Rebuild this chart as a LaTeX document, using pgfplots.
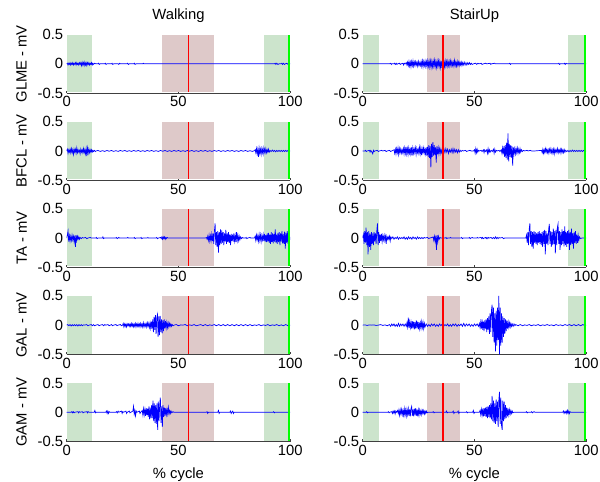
\documentclass[border=0pt]{standalone}
\usepackage{pgfplots}
\pgfplotsset{compat=1.18}
\usepackage{fontspec}
\setmainfont{Liberation Sans}

\definecolor{gshade}{RGB}{204,228,204}
\definecolor{rshade}{RGB}{222,201,201}
\definecolor{sig}{RGB}{0,0,255}
\definecolor{mred}{RGB}{255,0,0}
\definecolor{mgreen}{RGB}{0,255,0}
\newcommand\fs{\fontsize{14.8}{17}\selectfont}

\pgfplotsset{
  emg/.style={
    width=223.5pt, height=58.5pt, scale only axis,
    xmin=0, xmax=100, ymin=-0.5, ymax=0.5,
    axis x line*=bottom, axis y line*=left,
    y axis line style={draw=none},
    x axis line style={draw=black!75, line width=0.9pt},
    xtick={0,50,100}, xticklabels={0,50,100},
    ytick={-0.5,0,0.5}, yticklabels={-0.5,0,0.5},
    tick align=inside, major tick length=2.5pt,
    ytick style={draw=none}, xtick style={black!75, line width=0.8pt},
    tick label style={font=\fs},
    label style={font=\fs},
    xlabel style={yshift=-5pt},
    title style={font=\fs, yshift=2pt},
    ylabel shift=4pt,
    anchor=south west,
  },
  sigline/.style={draw=sig, line width=0.7pt, mark=none},
  band/.style={draw=none, mark=none},
}

% phase shading, Walking / StairUp
\newcommand\walkbg{%
  \addplot[band, fill=gshade] coordinates {(0,-0.485) (11.2,-0.485) (11.2,0.5) (0,0.5)} -- cycle;
  \addplot[band, fill=rshade] coordinates {(42.8,-0.485) (65.8,-0.485) (65.8,0.5) (42.8,0.5)} -- cycle;
  \addplot[band, fill=gshade] coordinates {(88.1,-0.485) (100,-0.485) (100,0.5) (88.1,0.5)} -- cycle;}
\newcommand\stairbg{%
  \addplot[band, fill=gshade] coordinates {(0,-0.485) (7.4,-0.485) (7.4,0.5) (0,0.5)} -- cycle;
  \addplot[band, fill=rshade] coordinates {(28.6,-0.485) (43.4,-0.485) (43.4,0.5) (28.6,0.5)} -- cycle;
  \addplot[band, fill=gshade] coordinates {(91.8,-0.485) (100,-0.485) (100,0.5) (91.8,0.5)} -- cycle;}
% event line and end-of-cycle line
\newcommand\walkln{%
  \addplot[band, fill=mred] coordinates {(54.15,-0.485) (54.85,-0.485) (54.85,0.5) (54.15,0.5)} -- cycle;
  \addplot[band, fill=mgreen] coordinates {(99.15,-0.485) (100,-0.485) (100,0.5) (99.15,0.5)} -- cycle;}
\newcommand\stairln{%
  \addplot[band, fill=mred] coordinates {(35.7,-0.485) (36.3,-0.485) (36.3,0.5) (35.7,0.5)} -- cycle;
  \addplot[band, fill=mgreen] coordinates {(99.15,-0.485) (100,-0.485) (100,0.5) (99.15,0.5)} -- cycle;}

\begin{document}
\begin{tikzpicture}
\path[use as bounding box] (0,0) rectangle (600pt,482pt);

%% ---- row 1: GLME
\begin{axis}[emg, at={(66.7pt,388.9pt)}, title={Walking}, ylabel={GLME - mV}]
\walkbg
\addplot[sigline] coordinates {(0,0) (0.3,0.01) (0.6,-0.02) (0.9,0.01) (1.2,-0.01) (1.5,0.02) (1.8,-0.02) (2.1,0.01) (2.4,-0.01) (2.7,0.02) (3,-0.02) (3.3,0.01) (3.6,-0.01) (3.9,0.02) (4.2,-0.02) (4.5,0.02) (4.8,-0.01) (5.1,0.01) (5.4,-0.02) (5.7,0.02) (6,-0.01) (6.3,0.02) (6.6,-0.03) (6.9,0.03) (7.2,-0.02) (7.5,0.02) (7.8,-0.03) (8.1,0.03) (8.4,-0.02) (8.7,0.02) (9,-0.03) (9.3,0.02) (9.6,-0.01) (9.9,0.02) (10.2,-0.02) (10.5,0.01) (10.8,-0.01) (11.1,0.02) (11.4,-0.02) (11.7,0.01) (12,-0.01) (12.5,0.01) (13,0) (14,0) (14.3,0.01) (14.6,-0.01) (15,0) (17,0) (17.3,0.01) (17.6,-0.01) (18,0) (20,0) (20.3,0.01) (20.6,-0.01) (21,0) (23,0) (23.3,-0.01) (23.6,0.01) (24,0) (27,0) (27.3,0.01) (27.6,-0.01) (28,0) (30,0) (30.3,0.01) (30.6,-0.01) (31,0) (34,0) (34.3,0.01) (34.6,0) (93,0) (93.3,0.01) (93.6,-0.01) (94,0.01) (94.5,-0.01) (95,0) (96,0) (96.3,0.01) (96.6,-0.01) (97,0.01) (97.4,-0.01) (97.8,0) (98.5,0.01) (99,-0.01) (99.5,0) (100,0)};
\walkln
\end{axis}

\begin{axis}[emg, at={(362.7pt,388.9pt)}, title={StairUp}]
\stairbg
\addplot[sigline] coordinates {(0,0) (12,0) (12.5,0.01) (12.8,-0.01) (13,0) (14,0) (14.3,0.01) (14.6,-0.01) (15,0.01) (15.3,-0.01) (15.6,0) (16.5,0.01) (16.8,-0.01) (17.2,0) (18,0.01) (18.3,-0.02) (18.6,0.01) (19,0) (19.5,0.02) (19.8,-0.02) (20.1,0.03) (20.4,-0.03) (20.7,0.04) (21,-0.04) (21.3,0.03) (21.6,-0.05) (21.9,0.04) (22.2,-0.03) (22.5,0.05) (22.8,-0.04) (23.1,0.03) (23.4,-0.03) (23.7,0.04) (24,-0.02) (24.3,0.03) (24.6,-0.04) (24.9,0.04) (25.2,-0.03) (25.5,0.02) (25.8,-0.03) (26.1,0.04) (26.4,-0.04) (26.7,0.05) (27,-0.05) (27.3,0.04) (27.6,-0.03) (27.9,0.05) (28.2,-0.04) (28.5,0.04) (28.8,-0.05) (29.1,0.05) (29.4,-0.04) (29.7,0.05) (30,-0.05) (30.3,0.05) (30.6,-0.06) (30.9,0.04) (31.2,-0.05) (31.5,0.05) (31.8,-0.04) (32.1,0.06) (32.4,-0.05) (32.7,0.04) (33,-0.06) (33.3,0.05) (33.6,-0.04) (33.9,0.05) (34.2,-0.05) (34.5,0.04) (34.8,-0.06) (35.1,0.05) (35.4,-0.07) (35.7,0.05) (36,-0.04) (36.3,0.04) (36.6,-0.05) (36.9,0.05) (37.2,-0.04) (37.5,0.04) (37.8,-0.04) (38.1,0.05) (38.4,-0.03) (38.7,0.04) (39,-0.04) (39.3,0.05) (39.6,-0.03) (39.9,0.04) (40.2,-0.03) (40.5,0.03) (40.8,-0.04) (41.1,0.06) (41.4,-0.03) (41.7,0.03) (42,-0.04) (42.3,0.04) (42.6,-0.03) (42.9,0.03) (43.2,-0.03) (43.5,0.03) (43.8,-0.02) (44.1,0.03) (44.4,-0.03) (44.7,0.02) (45,-0.02) (45.4,0.03) (45.8,-0.02) (46.2,0.02) (46.6,-0.02) (47,0.02) (47.4,-0.01) (47.8,0.02) (48.2,-0.01) (48.6,0.01) (49,-0.01) (49.5,0) (50.5,0.01) (51,-0.01) (51.5,0.01) (52,0) (53,0.01) (53.4,-0.01) (54,0) (55,0.01) (55.4,0) (57,0.01) (57.3,-0.01) (57.6,0) (59,0.01) (59.3,0) (65.5,0) (65.8,0.01) (66.1,-0.01) (66.4,0) (87.5,0) (87.8,0.01) (88.1,-0.01) (88.4,0) (90,0) (90.3,0.01) (90.6,-0.01) (91,0.01) (91.3,0) (100,0)};
\stairln
\end{axis}

%% ---- row 2: BFCL
\begin{axis}[emg, at={(66.7pt,301.8pt)}, ylabel={BFCL - mV}]
\walkbg
\addplot[sigline] coordinates {(0,0) (0.3,0.03) (0.6,-0.04) (0.9,0.02) (1.2,-0.02) (1.5,0.03) (1.8,-0.03) (2.1,0.04) (2.4,-0.03) (2.7,0.02) (3,-0.06) (3.3,0.03) (3.6,-0.02) (3.9,0.03) (4.2,-0.04) (4.5,0.05) (4.8,-0.03) (5.1,0.02) (5.4,-0.02) (5.7,0.01) (6,-0.05) (6.3,0.03) (6.6,-0.02) (6.9,0.02) (7.2,-0.03) (7.5,0.04) (7.8,-0.03) (8.1,0.02) (8.4,-0.05) (8.7,0.04) (9,-0.09) (9.3,0.05) (9.6,-0.04) (9.9,0.03) (10.2,-0.03) (10.5,0.02) (10.8,-0.02) (11.1,0.02) (11.4,-0.02) (11.7,0.01) (12,-0.01) (12.4,0.01) (12.8,-0.01) (13.2,0) (14,0.008) (15,-0.008) (16,0.005) (17,-0.008) (18,0.008) (19,-0.005) (20,0.008) (21,-0.008) (22,0.005) (23,-0.008) (24,0.008) (25,-0.005) (26,0.008) (27,-0.008) (28,0.005) (29,-0.008) (30,0.008) (31,-0.005) (32,0.008) (33,-0.008) (34,0.005) (35,-0.008) (36,0.008) (37,-0.005) (38,0.008) (39,-0.008) (40,0.005) (41,-0.008) (42,0.008) (43,-0.005) (44,0.008) (45,-0.008) (46,0.005) (47,-0.008) (48,0.008) (49,-0.005) (50,0.008) (51,-0.008) (52,0.005) (53,-0.008) (54,0.008) (55,-0.005) (56,0.008) (57,-0.008) (58,0.005) (59,-0.008) (60,0.008) (61,-0.005) (62,0.008) (63,-0.008) (64,0.005) (65,-0.008) (66,0.008) (67,-0.005) (68,0.008) (69,-0.008) (70,0.005) (71,-0.008) (72,0.008) (73,-0.005) (74,0.008) (75,-0.008) (76,0.005) (77,-0.008) (78,0.008) (79,-0.005) (80,0.008) (81,-0.008) (82,0.005) (83,-0.008) (84,0.005) (84.3,0.02) (84.6,-0.03) (84.9,0.04) (85.2,-0.05) (85.5,0.03) (85.8,-0.1) (86.1,0.05) (86.4,-0.04) (86.7,0.03) (87,-0.06) (87.3,0.04) (87.6,-0.03) (87.9,0.05) (88.2,-0.05) (88.5,0.03) (88.8,-0.03) (89.1,0.04) (89.4,-0.03) (89.7,0.02) (90,-0.02) (90.3,0.03) (90.6,-0.02) (91,0.01) (91.5,-0.01) (92,0.015) (92.5,-0.01) (93,0.01) (93.5,-0.015) (94,0.01) (94.5,-0.01) (95,0.01) (95.5,-0.01) (96,0.01) (96.5,-0.01) (97,0.01) (97.5,-0.01) (98,0.01) (98.5,-0.01) (99,0.01) (99.5,-0.01) (100,0)};
\walkln
\end{axis}

\begin{axis}[emg, at={(362.7pt,301.8pt)}]
\stairbg
\addplot[sigline] coordinates {(0,0) (1,0) (1.3,0.01) (1.6,-0.01) (2,0) (3,0.01) (3.3,-0.02) (3.6,0.01) (4,-0.01) (4.5,-0.05) (4.8,0.01) (5.1,-0.01) (5.5,0) (6.5,0.01) (7,-0.01) (7.5,0) (8.5,0.01) (9,0) (10,0.01) (10.5,-0.01) (11,0) (12,0.01) (12.5,-0.01) (13,0) (14,0.02) (14.3,-0.04) (14.6,0.03) (14.9,-0.05) (15.2,0.04) (15.5,-0.03) (15.8,0.05) (16.1,-0.06) (16.4,0.04) (16.7,-0.03) (17,0.03) (17.3,-0.04) (17.6,0.02) (17.9,-0.03) (18.2,0.04) (18.5,-0.05) (18.8,0.05) (19.1,-0.04) (19.4,0.07) (19.7,-0.05) (20,0.04) (20.3,-0.06) (20.6,0.05) (20.9,-0.04) (21.2,0.03) (21.5,-0.05) (21.8,0.06) (22.1,-0.08) (22.4,0.05) (22.7,-0.04) (23,0.04) (23.3,-0.03) (23.6,0.05) (23.9,-0.06) (24.2,0.04) (24.5,-0.03) (24.8,0.03) (25.1,-0.04) (25.4,0.06) (25.7,-0.05) (26,0.05) (26.3,-0.07) (26.6,0.04) (26.9,-0.03) (27.2,0.05) (27.5,-0.04) (27.8,0.03) (28.1,-0.05) (28.4,0.06) (28.7,-0.08) (29,0.07) (29.3,-0.1) (29.6,0.1) (29.9,-0.12) (30.2,0.08) (30.5,-0.28) (30.8,0.12) (31.1,-0.1) (31.4,0.15) (31.7,-0.08) (32,0.1) (32.3,-0.07) (32.6,0.06) (32.9,-0.2) (33.2,0.08) (33.5,-0.06) (33.8,0.05) (34.1,-0.05) (34.4,0.04) (34.7,-0.04) (35,0.03) (35.3,-0.03) (35.6,0.02) (36,-0.02) (36.4,0.03) (36.8,-0.03) (37.2,0.04) (37.6,-0.02) (38,0.03) (38.4,-0.04) (38.8,0.02) (39.2,-0.02) (39.6,0.03) (40,-0.03) (40.4,0.04) (40.8,-0.03) (41.2,0.03) (41.6,-0.02) (42,0.02) (42.4,-0.03) (42.8,0.02) (43.2,-0.02) (43.6,0.01) (44,-0.01) (44.5,0.01) (45,0) (46,0.01) (46.5,-0.01) (47,0) (48,0.01) (48.5,0) (49.5,0) (50,0.02) (50.3,-0.04) (50.6,0.04) (50.9,-0.03) (51.2,0.03) (51.5,-0.02) (51.8,0.01) (52.2,0) (53,0.01) (53.4,-0.01) (54,0.02) (54.3,-0.03) (54.6,0.02) (55,-0.01) (55.5,0.02) (55.8,-0.04) (56.1,0.04) (56.4,-0.03) (56.7,0.02) (57,-0.02) (57.5,0.01) (58,-0.01) (58.5,0.03) (58.8,-0.04) (59.1,0.03) (59.4,-0.02) (59.8,0.01) (60.2,0) (61,0.01) (61.4,-0.01) (62,0.02) (62.3,-0.04) (62.6,0.05) (62.9,-0.06) (63.2,0.08) (63.5,-0.1) (63.8,0.1) (64.1,-0.12) (64.4,0.14) (64.7,-0.15) (65,0.3) (65.3,-0.18) (65.6,0.12) (65.9,-0.1) (66.2,0.1) (66.5,-0.12) (66.8,0.08) (67.1,-0.25) (67.4,0.06) (67.7,-0.05) (68,0.04) (68.3,-0.05) (68.6,0.04) (68.9,-0.03) (69.2,0.05) (69.5,-0.04) (69.8,0.03) (70.1,-0.03) (70.4,0.04) (70.7,-0.02) (71,0.02) (71.4,-0.01) (72,0.01) (72.5,0) (73.5,0.01) (74,0) (75,0.01) (75.5,0) (77,0) (80,0.01) (80.3,-0.03) (80.6,0.03) (80.9,-0.04) (81.2,0.02) (81.5,-0.03) (81.8,0.04) (82.1,-0.02) (82.4,0.03) (82.7,-0.03) (83,0.02) (83.3,-0.04) (83.6,0.03) (83.9,-0.02) (84.2,0.04) (84.5,-0.03) (84.8,0.02) (85.1,-0.04) (85.4,0.03) (85.7,-0.05) (86,0.03) (86.3,-0.02) (86.6,0.02) (86.9,-0.03) (87.2,0.04) (87.5,-0.03) (87.8,0.02) (88.1,-0.02) (88.4,0.03) (88.7,-0.04) (89,0.03) (89.3,-0.02) (89.6,0.02) (89.9,-0.03) (90.2,0.02) (90.5,-0.02) (90.8,0.01) (91.3,-0.01) (91.8,0.01) (92.3,-0.015) (92.8,0.01) (93.3,-0.01) (93.8,0.015) (94.3,-0.01) (94.8,0.01) (95.3,-0.01) (95.8,0.01) (96.3,-0.01) (96.8,0.01) (97.3,-0.01) (97.8,0.01) (98.3,-0.01) (98.8,0.01) (99.3,-0.01) (100,0)};
\stairln
\end{axis}

%% ---- row 3: TA
\begin{axis}[emg, at={(66.7pt,214.7pt)}, ylabel={TA - mV}]
\walkbg
\addplot[sigline] coordinates {(0,0) (0.3,0.05) (0.6,0.12) (0.9,-0.06) (1.2,0.04) (1.5,-0.05) (1.8,0.03) (2.1,-0.04) (2.4,0.05) (2.7,-0.03) (3,0.03) (3.3,-0.06) (3.6,0.04) (3.9,-0.15) (4.2,0.05) (4.5,-0.04) (4.8,0.03) (5.1,-0.02) (5.4,0.02) (5.7,-0.02) (6,0.01) (6.5,-0.01) (7,0.01) (7.5,0) (8.5,0.01) (9,-0.01) (9.5,0) (10.5,0.01) (11,0) (13,0) (13.3,0.01) (13.6,-0.01) (14,0) (16,0) (16.2,0.02) (16.5,-0.01) (16.8,0) (22,0) (22.3,0.01) (22.6,-0.01) (23,0) (23.3,0.01) (23.6,0) (27,0) (27.3,0.01) (27.6,0) (30,0) (30.3,0.01) (30.6,-0.01) (31,0) (33,0) (33.3,0.01) (33.6,-0.01) (34,0) (36,0) (36.3,0.01) (36.6,0) (40,0) (40.3,0.01) (40.6,-0.01) (41,0) (42,0.01) (42.3,-0.01) (42.6,0.02) (42.9,-0.02) (43.2,0.02) (43.5,-0.01) (43.8,0.02) (44.1,-0.02) (44.4,0.01) (44.7,-0.01) (45,0.01) (45.4,0) (62,0) (62.5,0.01) (62.8,-0.02) (63.1,0.03) (63.4,-0.04) (63.7,0.05) (64,-0.05) (64.3,0.04) (64.6,-0.05) (64.9,0.06) (65.2,-0.05) (65.5,0.08) (65.8,-0.1) (66.1,0.12) (66.4,0.25) (66.7,-0.12) (67,0.1) (67.3,-0.15) (67.6,0.12) (67.9,-0.25) (68.2,0.1) (68.5,-0.12) (68.8,0.15) (69.1,-0.1) (69.4,0.13) (69.7,-0.08) (70,0.1) (70.3,-0.12) (70.6,0.08) (70.9,-0.06) (71.2,0.14) (71.5,-0.1) (71.8,0.08) (72.1,-0.07) (72.4,0.1) (72.7,-0.08) (73,0.06) (73.3,-0.12) (73.6,0.07) (73.9,-0.05) (74.2,0.06) (74.5,-0.06) (74.8,0.08) (75.1,-0.05) (75.4,0.04) (75.7,-0.07) (76,0.1) (76.3,-0.04) (76.6,0.05) (76.9,-0.04) (77.2,0.03) (77.5,-0.03) (77.8,0.02) (78.2,-0.01) (78.6,0.01) (79,0) (80,0) (80.3,0.01) (80.6,-0.01) (81,0) (82,0.01) (82.3,0) (84,0) (84.3,0.03) (84.6,-0.04) (84.9,0.05) (85.2,-0.03) (85.5,0.04) (85.8,-0.05) (86.1,0.06) (86.4,-0.04) (86.7,0.05) (87,-0.06) (87.3,0.04) (87.6,-0.03) (87.9,0.06) (88.2,-0.05) (88.5,0.07) (88.8,-0.06) (89.1,0.05) (89.4,-0.07) (89.7,0.08) (90,-0.06) (90.3,0.09) (90.6,-0.08) (90.9,0.06) (91.2,-0.1) (91.5,0.1) (91.8,-0.07) (92.1,0.08) (92.4,-0.09) (92.7,0.07) (93,-0.06) (93.3,0.15) (93.6,-0.08) (93.9,0.06) (94.2,-0.1) (94.5,0.09) (94.8,-0.07) (95.1,0.1) (95.4,-0.12) (95.7,0.08) (96,-0.06) (96.3,0.12) (96.6,-0.09) (96.9,0.07) (97.2,-0.1) (97.5,0.11) (97.8,-0.18) (98.1,0.09) (98.4,-0.08) (98.7,0.12) (99,-0.1) (99.3,0.08) (99.6,-0.06) (100,0.02)};
\walkln
\end{axis}

\begin{axis}[emg, at={(362.7pt,214.7pt)}]
\stairbg
\addplot[sigline] coordinates {(0,0) (0.3,0.06) (0.6,-0.1) (0.9,0.12) (1.2,-0.08) (1.5,0.18) (1.8,-0.12) (2.1,0.1) (2.4,-0.28) (2.7,0.12) (3,-0.15) (3.3,0.08) (3.6,-0.2) (3.9,0.1) (4.2,-0.1) (4.5,0.08) (4.8,-0.12) (5.1,0.1) (5.4,-0.06) (5.7,0.08) (6,-0.1) (6.3,0.12) (6.6,0.25) (6.9,-0.12) (7.2,0.1) (7.5,-0.08) (7.8,0.06) (8.1,-0.05) (8.4,0.07) (8.7,-0.06) (9,0.04) (9.3,-0.03) (9.6,0.05) (9.9,-0.04) (10.2,0.03) (10.5,-0.1) (10.8,0.03) (11.1,-0.02) (11.4,0.02) (11.7,-0.02) (12,0.03) (12.3,-0.05) (12.6,0.02) (13,-0.01) (13.5,0.02) (14,-0.02) (14.5,0.01) (15,-0.01) (15.5,0.02) (16,-0.02) (16.5,0.01) (17,-0.01) (17.5,0.01) (18,-0.01) (18.5,0.02) (19,-0.02) (19.5,0.01) (20,-0.02) (20.5,0.02) (21,-0.01) (21.5,0.01) (22,-0.02) (22.5,0.02) (23,-0.01) (23.5,0.01) (24,-0.02) (24.5,0.02) (25,-0.01) (25.5,0.01) (26,-0.01) (26.5,0.01) (27,-0.01) (27.5,0.01) (28,0) (29,0.01) (29.5,-0.01) (30,0) (31,0.01) (31.5,0.02) (31.8,-0.04) (32.1,0.03) (32.4,-0.06) (32.7,0.04) (33,-0.2) (33.3,0.05) (33.6,-0.06) (33.9,0.03) (34.2,-0.02) (34.6,0.01) (35,0) (37,0) (37.3,0.01) (37.6,-0.01) (38,0) (39,0) (39.3,0.01) (39.6,0) (44,0) (44.3,0.01) (44.6,-0.01) (45,0) (47.5,0) (47.8,0.01) (48.1,-0.01) (48.4,0) (49,0.01) (49.3,0) (51,0) (51.3,0.01) (51.6,0) (53,0.01) (53.3,-0.01) (53.6,0.01) (54,-0.01) (54.4,0) (55,0.01) (55.3,-0.01) (55.6,0.01) (56,-0.01) (56.3,0.01) (56.7,0) (57.5,0.01) (58,-0.01) (58.5,0.01) (59,-0.01) (59.4,0.02) (59.8,-0.01) (60.2,0.01) (60.6,-0.01) (61,0.01) (61.4,0) (62.5,0.01) (63,-0.01) (63.5,0) (73,0) (73.3,0.05) (73.6,-0.08) (73.9,0.1) (74.2,-0.12) (74.5,0.15) (74.8,0.25) (75.1,-0.1) (75.4,0.12) (75.7,-0.15) (76,0.1) (76.3,-0.18) (76.6,0.12) (76.9,-0.08) (77.2,0.1) (77.5,-0.1) (77.8,0.08) (78.1,-0.12) (78.4,0.1) (78.7,-0.08) (79,0.12) (79.3,-0.1) (79.6,0.08) (79.9,-0.12) (80.2,0.1) (80.5,-0.15) (80.8,0.12) (81.1,-0.1) (81.4,0.14) (81.7,-0.28) (82,0.12) (82.3,-0.1) (82.6,0.08) (82.9,-0.12) (83.2,0.15) (83.5,0.24) (83.8,-0.1) (84.1,0.12) (84.4,-0.15) (84.7,0.1) (85,-0.12) (85.3,0.16) (85.6,-0.1) (85.9,0.12) (86.2,-0.26) (86.5,0.14) (86.8,-0.12) (87.1,0.18) (87.4,0.24) (87.7,-0.1) (88,0.12) (88.3,-0.2) (88.6,0.1) (88.9,-0.12) (89.2,0.15) (89.5,-0.1) (89.8,0.12) (90.1,-0.14) (90.4,0.2) (90.7,-0.12) (91,0.1) (91.3,-0.15) (91.6,0.12) (91.9,-0.1) (92.2,0.14) (92.5,-0.2) (92.8,0.1) (93.1,-0.12) (93.4,0.16) (93.7,-0.1) (94,0.08) (94.3,-0.18) (94.6,0.1) (94.9,-0.08) (95.2,0.12) (95.5,-0.1) (95.8,0.06) (96.1,-0.08) (96.4,0.05) (96.7,-0.04) (97,0.02) (97.5,-0.01) (98,0) (100,0)};
\stairln
\end{axis}

%% ---- row 4: GAL
\begin{axis}[emg, at={(66.7pt,127.6pt)}, ylabel={GAL - mV}]
\walkbg
\addplot[sigline] coordinates {(0,0) (0.5,0.01) (1,-0.01) (1.5,0.01) (2,-0.015) (2.5,0.01) (3,-0.01) (3.5,0.01) (4,-0.01) (4.5,0.01) (5,-0.015) (5.5,0.01) (6,-0.01) (6.5,0.01) (7,-0.01) (7.5,0.005) (8,0) (9,0.01) (9.5,-0.01) (10,0) (11,0.01) (11.5,-0.01) (12,0.01) (12.5,-0.01) (13,0) (14,0.01) (14.5,-0.01) (15,0) (16,0.01) (16.5,-0.01) (17,0.01) (17.5,0) (18.5,0.01) (19,-0.01) (19.5,0) (20,0.01) (20.5,-0.01) (21,0) (22,0.01) (22.5,-0.01) (23,0) (24,0.01) (24.5,-0.01) (25,0) (25.3,0.03) (25.6,-0.03) (25.9,0.02) (26.2,-0.02) (26.5,0.02) (26.8,-0.03) (27.1,0.02) (27.4,-0.01) (27.7,0.02) (28,-0.02) (28.3,0.02) (28.6,-0.02) (28.9,0.03) (29.2,-0.02) (29.5,0.02) (29.8,-0.03) (30.1,0.02) (30.4,-0.02) (30.7,0.03) (31,-0.03) (31.3,0.02) (31.6,-0.02) (31.9,0.03) (32.2,-0.02) (32.5,0.02) (32.8,-0.03) (33.1,0.03) (33.4,-0.02) (33.7,0.02) (34,-0.03) (34.3,0.04) (34.6,-0.03) (34.9,0.02) (35.2,-0.02) (35.5,0.03) (35.8,-0.03) (36.1,0.04) (36.4,-0.02) (36.7,0.03) (37,-0.04) (37.3,0.04) (37.6,-0.05) (37.9,0.06) (38.2,-0.06) (38.5,0.1) (38.8,-0.12) (39.1,0.14) (39.4,-0.08) (39.7,0.17) (40,-0.15) (40.3,0.12) (40.6,0.18) (40.9,-0.2) (41.2,0.15) (41.5,-0.17) (41.8,0.16) (42.1,-0.12) (42.4,0.1) (42.7,-0.14) (43,0.08) (43.3,-0.1) (43.6,0.1) (43.9,-0.06) (44.2,0.07) (44.5,-0.05) (44.8,0.05) (45.1,-0.04) (45.4,0.04) (45.7,-0.03) (46,0.03) (46.3,-0.02) (46.6,0.02) (46.9,-0.02) (47.2,0.01) (47.6,-0.01) (48,0) (49,0.01) (50,-0.01) (51,0.005) (52,0) (53,0.01) (54,-0.01) (55,0.005) (56,-0.005) (57,0.01) (58,-0.01) (59,0) (60,0.01) (61,-0.01) (62,0.01) (63,-0.01) (64,0.005) (65,-0.005) (66,0.01) (67,-0.01) (68,0.01) (69,-0.01) (70,0.01) (71,-0.01) (72,0.01) (73,-0.01) (74,0.01) (75,-0.01) (76,0.01) (77,-0.01) (78,0.01) (79,-0.01) (80,0.01) (81,-0.01) (82,0.01) (83,-0.01) (84,0.005) (85,-0.005) (86,0.01) (87,-0.01) (88,0.005) (89,-0.005) (90,0.01) (91,-0.01) (92,0.005) (93,-0.005) (94,0.01) (95,-0.01) (96,0.005) (97,-0.01) (98,0.01) (99,-0.01) (100,0)};
\walkln
\end{axis}

\begin{axis}[emg, at={(362.7pt,127.6pt)}]
\stairbg
\addplot[sigline] coordinates {(0,0) (1,0.005) (2,-0.005) (3,0.005) (4,0) (5,0.005) (6,-0.005) (7,0) (8,0.01) (9,-0.005) (10,0.005) (11,-0.01) (12,0.01) (12.5,-0.02) (13,0.02) (13.5,-0.01) (14,0.02) (14.5,-0.02) (15,0.01) (15.5,-0.02) (16,0.03) (16.5,-0.02) (17,0.02) (17.5,-0.01) (18,0.02) (18.5,-0.02) (19,0.02) (19.5,-0.02) (19.8,0.04) (20.1,-0.03) (20.4,0.13) (20.7,-0.05) (21,0.06) (21.3,-0.04) (21.6,0.05) (21.9,-0.06) (22.2,0.07) (22.5,-0.05) (22.8,0.06) (23.1,-0.07) (23.4,0.05) (23.7,-0.06) (24,0.08) (24.3,-0.05) (24.6,0.06) (24.9,-0.07) (25.2,0.05) (25.5,-0.06) (25.8,0.04) (26.1,-0.05) (26.4,0.06) (26.7,-0.04) (27,0.05) (27.3,-0.06) (27.6,0.03) (27.9,-0.03) (28.4,0.02) (29,-0.02) (29.6,0.01) (30.2,-0.02) (30.8,0.02) (31.4,-0.01) (32,0.02) (32.6,-0.02) (33.2,0.01) (33.8,-0.02) (34.4,0.02) (35,-0.01) (35.6,0.02) (36.2,-0.02) (36.8,0.01) (37.4,-0.01) (38,0.02) (38.6,-0.02) (39.2,0.01) (39.8,-0.02) (40.4,0.02) (41,-0.01) (41.6,0.02) (42.2,-0.02) (42.8,0.01) (43.4,-0.01) (44,0.02) (44.6,-0.02) (45.2,0.03) (45.8,-0.02) (46.4,0.02) (47,-0.01) (47.6,0.02) (48.2,-0.02) (48.8,0.01) (49.4,-0.02) (50,0.02) (50.6,-0.01) (51.2,0.02) (51.8,-0.02) (52.2,0.03) (52.5,-0.04) (52.8,0.05) (53.1,-0.06) (53.4,0.1) (53.7,-0.08) (54,0.06) (54.3,-0.1) (54.6,0.08) (54.9,-0.06) (55.2,0.1) (55.5,-0.12) (55.8,0.12) (56.1,-0.08) (56.4,0.15) (56.7,-0.15) (57,0.2) (57.3,-0.12) (57.6,0.25) (57.9,0.35) (58.2,-0.2) (58.5,0.3) (58.8,-0.3) (59.1,0.2) (59.4,-0.45) (59.7,0.25) (60,-0.35) (60.3,0.3) (60.6,-0.25) (60.9,0.5) (61.2,-0.5) (61.5,0.3) (61.8,-0.35) (62.1,0.2) (62.4,-0.3) (62.7,0.15) (63,-0.2) (63.3,0.12) (63.6,-0.15) (63.9,0.1) (64.2,-0.1) (64.5,0.08) (64.8,-0.06) (65.1,0.05) (65.4,-0.04) (65.7,0.04) (66,-0.03) (66.3,0.03) (66.6,-0.02) (66.9,0.02) (67.3,-0.02) (67.7,0.02) (68.1,-0.01) (68.5,0.01) (69.5,-0.01) (70.5,0.01) (71.5,-0.01) (72.5,0.005) (73.5,-0.005) (74.5,0.01) (75.5,-0.01) (76.5,0.005) (77.5,-0.005) (78.5,0.01) (79.5,-0.01) (80.5,0.005) (81.5,-0.005) (82.5,0.01) (83.5,-0.005) (84.5,0.005) (85.5,-0.01) (86.5,0.01) (87.5,-0.005) (88.5,0.005) (89.5,-0.01) (90.5,0.01) (91.5,-0.005) (92.5,0.01) (93.5,-0.01) (94.5,0.01) (95.5,-0.01) (96.5,0.01) (97.5,-0.01) (98.5,0.01) (99.5,-0.01) (100,0)};
\stairln
\end{axis}

%% ---- row 5: GAM
\begin{axis}[emg, at={(66.7pt,40.5pt)}, ylabel={GAM - mV}, xlabel={\% cycle}]
\walkbg
\addplot[sigline] coordinates {(0,0) (2,0) (2.3,0.01) (2.6,-0.01) (3,0.01) (3.3,-0.01) (3.6,0) (5,0.01) (5.3,-0.01) (5.6,0.01) (6,0) (7,0.01) (7.3,-0.01) (7.6,0) (9,0.01) (9.3,-0.01) (9.6,0.01) (10,0) (12.3,0) (12.6,0.03) (12.9,-0.01) (13.2,0) (17.5,0) (17.8,0.02) (18.1,-0.02) (18.4,0.02) (18.7,-0.02) (19,0.01) (19.3,0) (22,0) (22.3,0.01) (22.6,-0.01) (23,0.02) (23.3,0) (24.5,0.02) (24.8,-0.02) (25.1,0.01) (25.5,0) (26.5,0.02) (26.8,-0.02) (27.1,0) (28,0.02) (28.3,-0.01) (28.7,0) (29.6,0.02) (29.9,0.1) (30.2,-0.03) (30.5,0.03) (30.8,-0.06) (31.1,0.02) (31.4,0) (32.5,0.02) (32.8,-0.02) (33.1,0) (33.8,0.03) (34.1,-0.05) (34.4,0.06) (34.7,-0.04) (35,0.05) (35.3,-0.06) (35.6,0.07) (35.9,-0.05) (36.2,0.06) (36.5,-0.08) (36.8,0.1) (37.1,-0.12) (37.4,0.08) (37.7,-0.1) (38,0.12) (38.3,-0.1) (38.6,0.2) (38.9,-0.15) (39.2,0.15) (39.5,-0.18) (39.8,0.12) (40.1,-0.2) (40.4,0.15) (40.7,-0.3) (41,0.18) (41.3,-0.15) (41.6,0.12) (41.9,0.25) (42.2,-0.18) (42.5,0.1) (42.8,-0.25) (43.1,0.12) (43.4,-0.08) (43.7,0.08) (44,-0.06) (44.3,0.07) (44.6,-0.04) (44.9,0.05) (45.2,-0.03) (45.5,0.08) (45.8,-0.03) (46.1,0.03) (46.4,-0.02) (46.7,0.02) (47,-0.01) (47.5,0.01) (48,0) (62.5,0) (62.8,0.01) (63.1,-0.02) (63.4,0) (67.6,0) (67.9,0.03) (68.2,-0.02) (68.5,0) (73,0) (73.3,0.02) (73.6,-0.02) (73.9,0) (74.3,0.02) (74.6,-0.02) (74.9,0) (92.3,0) (92.6,0.01) (92.9,-0.01) (93.2,0) (100,0)};
\walkln
\end{axis}

\begin{axis}[emg, at={(362.7pt,40.5pt)}, xlabel={\% cycle}]
\stairbg
\addplot[sigline] coordinates {(0,0) (1.5,0) (1.8,0.01) (2.1,-0.01) (2.4,0) (11.2,0) (11.5,0.01) (11.8,-0.01) (12.1,0) (13,0.01) (13.3,-0.02) (13.6,0.02) (13.9,-0.01) (14.2,0.02) (14.5,-0.03) (14.8,0.02) (15.1,0) (15.6,0.03) (15.9,-0.02) (16.2,0.04) (16.5,-0.05) (16.8,0.04) (17.1,-0.03) (17.4,0.05) (17.7,-0.04) (18,0.03) (18.3,-0.05) (18.6,0.06) (18.9,-0.05) (19.2,0.04) (19.5,-0.06) (19.8,0.05) (20.1,-0.04) (20.4,0.06) (20.7,-0.06) (21,0.05) (21.3,-0.07) (21.6,0.06) (21.9,0.1) (22.2,-0.06) (22.5,0.05) (22.8,-0.07) (23.1,0.06) (23.4,-0.05) (23.7,0.07) (24,-0.06) (24.3,0.05) (24.6,-0.07) (24.9,0.04) (25.2,-0.05) (25.5,0.04) (25.8,-0.03) (26.1,0.03) (26.4,-0.04) (26.7,0.03) (27,-0.02) (27.3,0.03) (27.6,-0.03) (27.9,0.02) (28.2,-0.02) (28.5,0.02) (28.8,-0.01) (29.2,0) (31.3,0) (31.6,0.01) (31.9,-0.01) (32.2,0) (37.2,0) (37.5,0.02) (37.8,-0.01) (38.1,0) (40.2,0) (40.5,0.02) (40.8,-0.02) (41.1,0) (42.4,0) (42.7,0.02) (43,-0.02) (43.3,0) (46.2,0) (46.5,0.01) (46.8,-0.01) (47.1,0) (49.2,0) (49.5,0.03) (49.8,-0.02) (50.1,0) (52.2,0) (52.5,0.03) (52.8,-0.04) (53.1,0.05) (53.4,-0.05) (53.7,0.06) (54,-0.07) (54.3,0.07) (54.6,-0.06) (54.9,0.08) (55.2,-0.08) (55.5,0.09) (55.8,-0.1) (56.1,0.1) (56.4,-0.08) (56.7,0.12) (57,-0.1) (57.3,0.15) (57.6,-0.12) (57.9,0.28) (58.2,-0.15) (58.5,0.2) (58.8,-0.18) (59.1,0.15) (59.4,-0.2) (59.7,0.22) (60,-0.15) (60.3,0.18) (60.6,-0.25) (60.9,0.2) (61.2,0.35) (61.5,-0.2) (61.8,0.25) (62.1,-0.22) (62.4,-0.3) (62.7,0.2) (63,-0.15) (63.3,0.18) (63.6,-0.12) (63.9,0.12) (64.2,-0.1) (64.5,0.08) (64.8,-0.07) (65.1,0.06) (65.4,-0.05) (65.7,0.04) (66,-0.03) (66.3,0.03) (66.6,-0.02) (66.9,0.02) (67.2,-0.01) (67.6,0) (73,0) (73.3,0.01) (73.6,-0.01) (73.9,0) (75.3,0) (75.6,0.01) (75.9,-0.01) (76.2,0) (76.7,0.01) (77,0) (89.5,0) (89.8,0.02) (90.1,-0.02) (90.4,0.01) (90.7,-0.01) (91,0.02) (91.3,-0.02) (91.6,0.03) (91.9,-0.02) (92.2,0.02) (92.5,-0.02) (92.8,0.01) (93.1,0) (99,0) (99.3,0.01) (99.6,-0.01) (100,0)};
\stairln
\end{axis}
\end{tikzpicture}
\end{document}
